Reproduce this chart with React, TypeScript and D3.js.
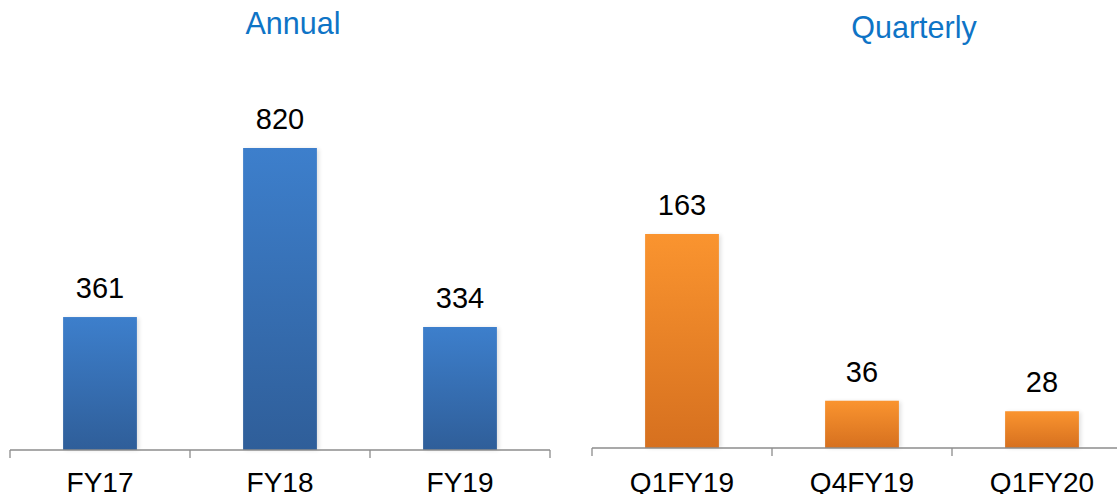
import React from "react";
import * as d3 from "d3";

const annualCats = ["FY17", "FY18", "FY19"];
const annualVals = [361, 820, 334];
const quarterCats = ["Q1FY19", "Q4FY19", "Q1FY20"];
const quarterVals = [163, 36, 28];

const W = 1117;
const H = 494;
const FONT = "'Liberation Sans', Arial, sans-serif";

function Panel({ cats, vals, x0, x1, base, topY, maxVal, title, titleX, titleY, gradId, tickEnd }) {
  const x = d3.scaleBand().domain(cats).range([x0, x1]).paddingInner(0).paddingOuter(0);
  const y = d3.scaleLinear().domain([0, maxVal]).range([base, topY]);
  const bw = x.bandwidth() * 0.41;
  const ticks = [x0, ...cats.map((c) => (x(c) as number) + x.bandwidth())].filter((t) => t <= tickEnd);
  return (
    <g>
      <text x={titleX} y={titleY} textAnchor="middle" fontFamily={FONT} fontSize={30.5} fill="#0E74C6">{title}</text>
      {cats.map((c, i) => {
        const cx = (x(c) as number) + x.bandwidth() / 2;
        const yt = y(vals[i]);
        return (
          <g key={c}>
            <rect x={cx - bw / 2 + 2} y={yt + 1} width={bw} height={base - yt - 1} fill="#000" opacity={0.12} filter="url(#blur)" />
            <rect x={cx - bw / 2} y={yt} width={bw} height={base - yt} fill={`url(#${gradId})`} />
            <text x={cx} y={yt - 19} textAnchor="middle" fontFamily={FONT} fontSize={29} fill="#000">{d3.format("d")(vals[i])}</text>
            <text x={cx} y={492} textAnchor="middle" fontFamily={FONT} fontSize={28} fill="#000">{c}</text>
          </g>
        );
      })}
      <line x1={x0} x2={Math.min(x1, W)} y1={base} y2={base} stroke="#8c8c8c" strokeWidth={1.3} />
      {ticks.map((t, i) => (
        <line key={i} x1={t} x2={t} y1={base} y2={base + 8} stroke="#8c8c8c" strokeWidth={1.3} />
      ))}
    </g>
  );
}

export default function App() {
  return (
    <div style={{ position: "fixed", left: 0, top: 0 }}>
      <svg width={W} height={H} style={{ display: "block", background: "#fff" }}>
        <defs>
          <linearGradient id="gBlue" x1="0" y1="0" x2="0" y2="1">
            <stop offset="0" stopColor="#3D7FCC" />
            <stop offset="1" stopColor="#2F5E99" />
          </linearGradient>
          <linearGradient id="gOrange" x1="0" y1="0" x2="0" y2="1">
            <stop offset="0" stopColor="#FA942F" />
            <stop offset="1" stopColor="#D6701F" />
          </linearGradient>
          <filter id="blur" x="-20%" y="-20%" width="140%" height="140%">
            <feGaussianBlur stdDeviation="2" />
          </filter>
        </defs>
        <Panel cats={annualCats} vals={annualVals} x0={10} x1={550} base={450} topY={148} maxVal={820}
          title="Annual" titleX={293} titleY={34} gradId="gBlue" tickEnd={550} />
        <Panel cats={quarterCats} vals={quarterVals} x0={592} x1={1132} base={448} topY={234} maxVal={163}
          title="Quarterly" titleX={914} titleY={38} gradId="gOrange" tickEnd={1117} />
      </svg>
    </div>
  );
}
